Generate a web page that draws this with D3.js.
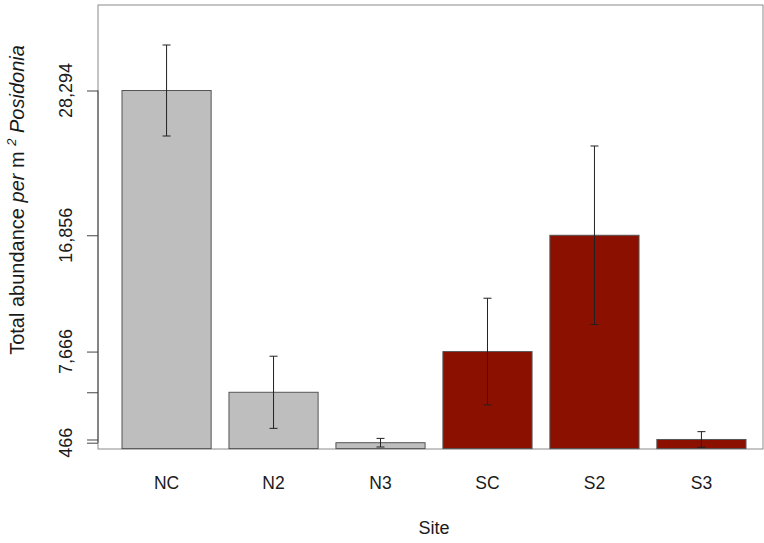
<!DOCTYPE html>
<html>
<head>
<meta charset="utf-8">
<script src="https://cdn.jsdelivr.net/npm/d3@7"></script>
<style>
  body { margin: 0; background: #fff; }
  text { font-family: "Liberation Sans", Arial, Helvetica, sans-serif; fill: #1a1a1a; }
</style>
</head>
<body>
<svg></svg>
<script>
// site means and standard errors
const sites = ["NC", "N2", "N3", "SC", "S2", "S3"];
const means = [28294, 4450, 466, 7666, 16856, 720];
const errors = [3595, 2850, 340, 4215, 7054, 620];
const fills = ["#bebebe", "#bebebe", "#bebebe", "#8b1000", "#8b1000", "#8b1000"];
// R drops the tick labels that would overlap
const yTickLabels = ["28,294", "", "466", "7,666", "16,856", ""];

const W = 764, H = 543;
const plot = { left: 98, right: 763, top: 5, bottom: 449 };

const svg = d3.select('svg')
    .attr('width', W)
    .attr('height', H);

// scales
const x = d3.scaleBand()
    .domain(sites)
    .range([122, 746])
    .paddingInner(0.2 / 1.2)
    .paddingOuter(0);

const y = d3.scaleLinear()
    .domain([0, 35050])
    .range([448.6, plot.top]);

// plot box
svg.append('rect')
    .attr('x', plot.left)
    .attr('y', plot.top)
    .attr('width', plot.right - plot.left)
    .attr('height', plot.bottom - plot.top)
    .attr('fill', 'none')
    .attr('stroke', '#8a8a8a')
    .attr('stroke-width', 1);

// bars
svg.selectAll('rect.bar')
    .data(sites)
    .enter()
    .append('rect')
    .attr('class', 'bar')
    .attr('x', d => x(d))
    .attr('y', (d, i) => y(means[i]))
    .attr('width', x.bandwidth())
    .attr('height', (d, i) => y(0) - y(means[i]))
    .attr('fill', (d, i) => fills[i])
    .attr('stroke', '#555')
    .attr('stroke-width', 1);

// error bars
const cap = 4;
const err = svg.append('g')
    .attr('stroke', '#222')
    .attr('stroke-width', 1);
sites.forEach((s, i) => {
    const cx = x(s) + x.bandwidth() / 2;
    const lo = y(means[i] - errors[i]);
    const hi = y(means[i] + errors[i]);
    err.append('line').attr('x1', cx).attr('x2', cx).attr('y1', lo).attr('y2', hi);
    err.append('line').attr('x1', cx - cap).attr('x2', cx + cap).attr('y1', lo).attr('y2', lo);
    err.append('line').attr('x1', cx - cap).attr('x2', cx + cap).attr('y1', hi).attr('y2', hi);
});

// y axis: ticks at the bar means, labels rotated like R's las=0
const yAxis = svg.append('g')
    .attr('transform', `translate(${plot.left},0)`)
    .call(d3.axisLeft(y)
        .tickValues(means)
        .tickSize(11)
        .tickPadding(0)
        .tickFormat(''));
yAxis.select('.domain').remove();
yAxis.selectAll('.tick line').attr('stroke', '#444');
svg.append('line')
    .attr('x1', plot.left).attr('x2', plot.left)
    .attr('y1', y(d3.min(means))).attr('y2', y(d3.max(means)))
    .attr('stroke', '#444');

svg.append('g').selectAll('text')
    .data(means)
    .enter()
    .append('text')
    .attr('transform', d => `translate(72,${y(d)}) rotate(-90)`)
    .attr('text-anchor', 'middle')
    .style('font-size', '18px')
    .text((d, i) => yTickLabels[i]);

// x labels
svg.append('g').selectAll('text')
    .data(sites)
    .enter()
    .append('text')
    .attr('x', d => x(d) + x.bandwidth() / 2)
    .attr('y', 489)
    .attr('text-anchor', 'middle')
    .style('font-size', '17.5px')
    .text(d => d);

// axis titles
svg.append('text')
    .attr('x', 434)
    .attr('y', 534)
    .attr('text-anchor', 'middle')
    .style('font-size', '18px')
    .text('Site');

const yTitle = svg.append('text')
    .attr('transform', 'translate(24,200) rotate(-90)')
    .attr('text-anchor', 'middle')
    .style('font-size', '20px');
yTitle.append('tspan').text('Total abundance ');
yTitle.append('tspan').style('font-style', 'italic').text('per');
yTitle.append('tspan').text(' m ');
yTitle.append('tspan').attr('dy', -8).style('font-size', '13px').style('font-style', 'italic').text('2');
yTitle.append('tspan').attr('dy', 8).text('  ');
yTitle.append('tspan').style('font-style', 'italic').text('Posidonia');
</script>
</body>
</html>
